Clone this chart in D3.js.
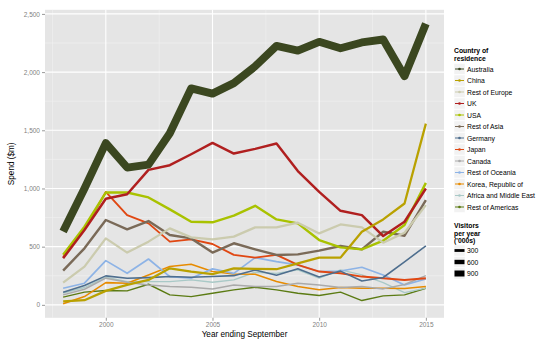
<!DOCTYPE html>
<html>
<head>
<meta charset="utf-8">
<script src="https://cdn.jsdelivr.net/npm/d3@7"></script>
<style>
  html, body { margin: 0; padding: 0; background: #fff; }
  svg { display: block; font-family: "Liberation Sans", Arial, sans-serif; }
</style>
</head>
<body>
<svg id="chart" width="550" height="343"></svg>
<script>
const years = [1998,1999,2000,2001,2002,2003,2004,2005,2006,2007,2008,2009,2010,2011,2012,2013,2014,2015];
const countries = ["Australia","China","Rest of Europe","UK","USA","Rest of Asia","Germany","Japan","Canada","Rest of Oceania","Korea, Republic of","Africa and Middle East","Rest of Americas"];
const australia = [630,1000,1390,1180,1205,1475,1860,1815,1905,2050,2225,2185,2260,2205,2255,2280,1965,2415];
const china = [30,40,120,171,214,314,286,263,314,309,306,357,406,406,628,734,871,1557];
const restOfEurope = [191,329,571,449,543,657,580,563,586,666,666,706,614,691,666,534,620,857];
const uk = [400,643,912,950,1160,1200,1294,1391,1300,1340,1386,1150,971,808,771,591,714,1000];
const usa = [430,671,965,965,923,820,714,709,766,851,734,700,557,494,477,551,686,1048];
const restOfAsia = [294,486,729,649,720,600,571,449,529,477,429,434,466,506,477,628,594,900];
const germany = [109,166,249,229,234,243,237,243,251,300,255,310,240,290,205,235,370,506];
const japan = [410,650,970,771,700,543,563,523,429,406,429,343,286,271,243,229,214,229];
const canada = [86,134,229,195,171,157,151,137,171,157,157,186,171,149,157,137,175,251];
const restOfOceania = [143,186,380,271,394,243,229,309,271,406,371,343,286,291,323,257,171,223];
const korea = [9,71,191,186,257,329,349,286,266,263,200,157,129,149,143,143,140,157];
const africaMiddleEast = [100,149,237,200,200,200,214,194,214,280,270,300,230,300,257,190,105,143];
const restOfAmericas = [66,109,123,120,177,86,71,100,129,151,129,100,80,109,37,77,86,143];
// approximate visitors per year ('000s), mapped to line width
const visitors = [1250,200,200,240,230,230,70,130,50,90,60,30,40];
const sizeBreaks = [300,600,900];
const yTicks = [0,500,1000,1500,2000,2500];
const xTicks = [2000,2005,2010,2015];

const seriesValues = [australia,china,restOfEurope,uk,usa,restOfAsia,germany,japan,canada,restOfOceania,korea,africaMiddleEast,restOfAmericas];
const colors = ["#3b4720","#b9a100","#cbcbae","#b01f1f","#a9c200","#7a6a58","#4e6e8e","#e04712","#aaaaaa","#8db3e6","#e78b00","#a9c9c7","#5b7b13"];

const series = countries.map((c, i) => ({
  name: c, color: colors[i], visitors: visitors[i],
  values: years.map((y, j) => ({year: y, value: seriesValues[i][j]}))
}));

const svg = d3.select("#chart");
const P = {left: 45, right: 444, top: 9.8, bottom: 317.8};

const allVals = seriesValues.flat();
const vmin = d3.min(allVals), vmax = d3.max(allVals);
const vpad = (vmax - vmin) * 0.05;
const xmin = d3.min(years), xmax = d3.max(years);
const xpad = (xmax - xmin) * 0.05;

const x = d3.scaleLinear().domain([xmin - xpad, xmax + xpad]).range([P.left, P.right]);
const y = d3.scaleLinear().domain([vmin - vpad, vmax + vpad]).range([P.bottom, P.top]);
const w = d3.scaleLinear().domain([0, 900]).range([1.2, 6]);

// panel
svg.append("rect").attr("x", P.left).attr("y", P.top)
  .attr("width", P.right - P.left).attr("height", P.bottom - P.top).attr("fill", "#e5e5e5");

// minor grid
const yMinor = yTicks.slice(0, -1).map(t => t + 250);
const xMinor = [xTicks[0] - 2.5].concat(xTicks.slice(0, -1).map(t => t + 2.5));
svg.append("g").selectAll("line").data(yMinor).join("line")
  .attr("x1", P.left).attr("x2", P.right).attr("y1", d => y(d)).attr("y2", d => y(d))
  .attr("stroke", "#f2f2f2").attr("stroke-width", 0.6);
svg.append("g").selectAll("line").data(xMinor).join("line")
  .attr("y1", P.top).attr("y2", P.bottom).attr("x1", d => x(d)).attr("x2", d => x(d))
  .attr("stroke", "#f2f2f2").attr("stroke-width", 0.6);
// major grid
svg.append("g").selectAll("line").data(yTicks).join("line")
  .attr("x1", P.left).attr("x2", P.right).attr("y1", d => y(d)).attr("y2", d => y(d))
  .attr("stroke", "#ffffff").attr("stroke-width", 1.1);
svg.append("g").selectAll("line").data(xTicks).join("line")
  .attr("y1", P.top).attr("y2", P.bottom).attr("x1", d => x(d)).attr("x2", d => x(d))
  .attr("stroke", "#ffffff").attr("stroke-width", 1.1);

// axes
const yAxis = d3.axisLeft(y).tickValues(yTicks).tickFormat(d3.format(",")).tickSize(3).tickPadding(2);
const gy = svg.append("g").attr("transform", `translate(${P.left},0)`).call(yAxis);
const xAxis = d3.axisBottom(x).tickValues(xTicks).tickFormat(d3.format("d")).tickSize(3).tickPadding(2);
const gx = svg.append("g").attr("transform", `translate(0,${P.bottom})`).call(xAxis);
[gy, gx].forEach(g => {
  g.select(".domain").remove();
  g.selectAll(".tick line").attr("stroke", "#7f7f7f").attr("stroke-width", 0.8);
  g.selectAll(".tick text").attr("fill", "#7f7f7f").attr("font-size", 6.5)
    .attr("font-family", "Liberation Sans, Arial, sans-serif");
});

// lines (drawn in reverse so Australia on top)
const line = d3.line().x(d => x(d.year)).y(d => y(d.value));
svg.append("g").selectAll("path").data(series.slice().reverse()).join("path")
  .attr("d", d => line(d.values))
  .attr("fill", "none").attr("stroke", d => d.color)
  .attr("stroke-width", d => w(d.visitors))
  .attr("stroke-linejoin", "round").attr("stroke-linecap", "butt");

// axis titles
svg.append("text").attr("x", (P.left + P.right) / 2).attr("y", 336.5)
  .attr("text-anchor", "middle").attr("font-size", 8.2).attr("fill", "#000")
  .text("Year ending September");
svg.append("text").attr("transform", `translate(13.5,${(P.top + P.bottom) / 2}) rotate(-90)`)
  .attr("text-anchor", "middle").attr("font-size", 8.2).attr("fill", "#000")
  .text("Spend ($m)");

// colour legend
const lg = svg.append("g").attr("transform", "translate(454,0)");
lg.append("text").attr("x", 0).attr("y", 53).attr("font-size", 6.8).attr("font-weight", "bold").text("Country of");
lg.append("text").attr("x", 0).attr("y", 61).attr("font-size", 6.8).attr("font-weight", "bold").text("residence");
const items = lg.selectAll("g.item").data(series).join("g").attr("class", "item")
  .attr("transform", (d, i) => `translate(0,${63.5 + i * 11.5})`);
items.append("rect").attr("width", 11).attr("height", 11).attr("fill", "#f2f2f2").attr("stroke", "#ffffff").attr("stroke-width", 0.5);
items.append("line").attr("x1", 1).attr("x2", 10).attr("y1", 5.5).attr("y2", 5.5)
  .attr("stroke", d => d.color).attr("stroke-width", 1);
items.append("circle").attr("cx", 5.5).attr("cy", 5.5).attr("r", 1.3).attr("fill", d => d.color);
items.append("text").attr("x", 13).attr("y", 8.2).attr("font-size", 6.8).attr("fill", "#000").text(d => d.name);

// size legend
const sg = svg.append("g").attr("transform", "translate(454,0)");
["Visitors", "per year", "('000s)"].forEach((t, i) =>
  sg.append("text").attr("x", 0).attr("y", 228 + i * 7.5).attr("font-size", 6.8).attr("font-weight", "bold").text(t));
const sitems = sg.selectAll("g.sitem").data(sizeBreaks).join("g").attr("class", "sitem")
  .attr("transform", (d, i) => `translate(0,${245 + i * 11.5})`);
sitems.append("rect").attr("width", 11).attr("height", 11).attr("fill", "#f2f2f2").attr("stroke", "#ffffff").attr("stroke-width", 0.5);
sitems.append("line").attr("x1", 0.5).attr("x2", 10.5).attr("y1", 5.5).attr("y2", 5.5)
  .attr("stroke", "#000").attr("stroke-width", d => w(d));
sitems.append("text").attr("x", 13).attr("y", 8.2).attr("font-size", 6.8).attr("fill", "#000").text(d => d3.format(",")(d));
</script>
</body>
</html>
